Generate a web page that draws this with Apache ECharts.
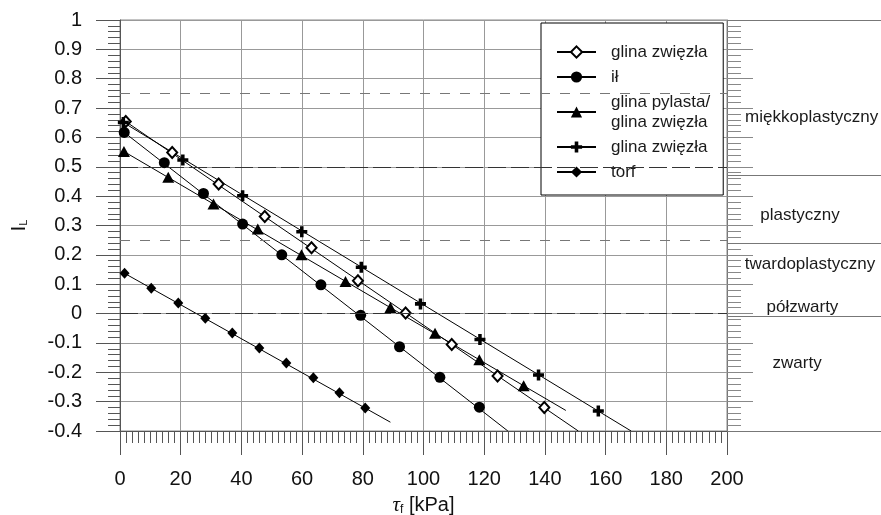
<!DOCTYPE html>
<html>
<head>
<meta charset="utf-8">
<script src="https://cdn.jsdelivr.net/npm/echarts@6/dist/echarts.min.js"></script>
<style>
html, body { margin: 0; padding: 0; background: #fff; }
#chart { width: 881px; height: 515px; }
</style>
</head>
<body>
<div id="chart"></div>
<script>
// axis ticks
var xTicks = [0, 20, 40, 60, 80, 100, 120, 140, 160, 180, 200];
var yTicks = [-0.4, -0.3, -0.2, -0.1, 0, 0.1, 0.2, 0.3, 0.4, 0.5, 0.6, 0.7, 0.8, 0.9, 1];

// legend texts
var seriesKeys = ['gz1', 'il', 'gp', 'gz2', 'torf'];
var seriesLabels = ['glina zwięzła', 'ił', 'glina pylasta/\nglina zwięzła', 'glina zwięzła', 'torf'];

// glina zwięzła (open diamond)
var gz1X = [1.9, 17.2, 32.5, 47.7, 63.1, 78.4, 94.1, 109.3, 124.4, 139.8];
var gz1Y = [0.654, 0.549, 0.441, 0.331, 0.224, 0.112, 0.002, -0.105, -0.213, -0.32];
var gz1Fit = [[1.9, 0.654], [151, -0.4]];

// ił
var ilX = [1.4, 14.6, 27.5, 40.4, 53.3, 66.2, 79.3, 92.1, 105.4, 118.4];
var ilY = [0.617, 0.514, 0.409, 0.305, 0.2, 0.098, -0.006, -0.113, -0.217, -0.319];
var ilFit = [[1.4, 0.617], [127.8, -0.4]];

// glina pylasta / glina zwięzła
var gpX = [1.3, 15.9, 30.8, 45.4, 59.8, 74.3, 89.1, 103.8, 118.4, 133];
var gpY = [0.552, 0.464, 0.373, 0.288, 0.2, 0.109, 0.021, -0.067, -0.157, -0.246];
var gpFit = [[1.3, 0.552], [146.9, -0.33]];

// glina zwięzła (cross)
var gz2X = [1.1, 20.7, 40.4, 59.9, 79.5, 99, 118.6, 137.9, 157.6];
var gz2Y = [0.651, 0.523, 0.401, 0.279, 0.158, 0.033, -0.088, -0.209, -0.332];
var gz2Fit = [[1.1, 0.651], [168.4, -0.4]];

// torf
var torfX = [1.5, 10.3, 19.2, 28.1, 37, 45.9, 54.8, 63.7, 72.3, 80.8];
var torfY = [0.137, 0.086, 0.036, -0.016, -0.066, -0.117, -0.168, -0.219, -0.27, -0.322];
var torfFit = [[1.5, 0.137], [89.1, -0.37]];

// consistency zones on the right
var zoneNames = ['miękkoplastyczny', 'plastyczny', 'twardoplastyczny', 'półzwarty', 'zwarty'];
var zoneBounds = [1, 0.473, 0.238, -0.01, -0.4];
var refLines = [0.75, 0.5, 0.25, 0];

// where the zone names sit inside the right panel (x 0..1, y in I_L units)
var zoneLabelAt = [[0.55, 0.667], [0.474, 0.335], [0.539, 0.167], [0.49, 0.022], [0.455, -0.17]];

var FONT = 'Liberation Sans, Arial, sans-serif';
var plus = 'path://M3.4,0h3.2v3.4h3.4v3.2h-3.4v3.4h-3.2v-3.4h-3.4v-3.2h3.4z';

function pts(xs, ys) {
    return xs.map(function (x, i) { return [x, ys[i]]; });
}

var marks = [
    { key: 'gz1', x: gz1X, y: gz1Y, fit: gz1Fit, symbol: 'diamond', size: [10, 11],
      style: { color: '#fff', borderColor: '#000', borderWidth: 2, opacity: 1 } },
    { key: 'il', x: ilX, y: ilY, fit: ilFit, symbol: 'circle', size: 11, style: { color: '#000', opacity: 1 } },
    { key: 'gp', x: gpX, y: gpY, fit: gpFit, symbol: 'triangle', size: [12, 11], style: { color: '#000', opacity: 1 } },
    { key: 'gz2', x: gz2X, y: gz2Y, fit: gz2Fit, symbol: plus, size: 11, style: { color: '#000', opacity: 1 } },
    { key: 'torf', x: torfX, y: torfY, fit: torfFit, symbol: 'diamond', size: [10, 11], style: { color: '#000', opacity: 1 } }
];

var series = [];
// fitted lines first, so the legend takes its icon (line + symbol) from them
marks.forEach(function (m) {
    series.push({
        name: m.key, type: 'line', data: m.fit, showSymbol: false,
        symbol: m.symbol, symbolSize: m.size, itemStyle: m.style,
        lineStyle: { color: '#000', width: 1 }, z: 3, silent: true
    });
});
marks.forEach(function (m) {
    series.push({
        name: m.key, type: 'scatter', data: pts(m.x, m.y),
        symbol: m.symbol, symbolSize: m.size, itemStyle: m.style, z: 4, silent: true
    });
});

// dashed limits in the plot
series.push({
    name: 'ref', type: 'line', data: [], z: 2, silent: true,
    markLine: {
        silent: true, symbol: ['none', 'none'], label: { show: false },
        data: refLines.map(function (v) {
            var dark = (v === 0.5 || v === 0);
            return { yAxis: v, lineStyle: { type: dark ? [18, 5] : [10, 10], color: dark ? '#333' : '#777', width: 1 } };
        })
    }
});

// right panel: zone borders and names
series.push({
    name: 'zones', type: 'scatter', xAxisIndex: 1, yAxisIndex: 1, silent: true,
    symbolSize: 0, itemStyle: { opacity: 1 },
    data: zoneNames.map(function (n, i) { return { value: zoneLabelAt[i], name: n }; }),
    label: { show: true, position: 'inside', formatter: '{b}', fontSize: 17, color: '#1a1a1a', fontFamily: FONT },
    markLine: {
        silent: true, symbol: ['none', 'none'], label: { show: false },
        lineStyle: { type: 'solid', color: '#777', width: 1 },
        data: zoneBounds.map(function (v) { return { yAxis: v }; })
    }
});

var tickColor = '#555';

var option = {
    animation: false,
    backgroundColor: '#fff',
    grid: [
        { left: 120, right: 154, top: 20, bottom: 84, show: true, borderColor: '#888', borderWidth: 1,
          containLabel: false, outerBoundsMode: 'none' },
        { left: 727, right: 0, top: 20, bottom: 84, containLabel: false, outerBoundsMode: 'none' }
    ],
    legend: {
        orient: 'vertical', left: 541, top: 23,
        data: seriesKeys,
        formatter: function (name) { return seriesLabels[seriesKeys.indexOf(name)]; },
        itemWidth: 39, itemHeight: 14, itemGap: 5,
        padding: [19, 13, 13, 15],
        borderColor: '#000', borderWidth: 1, backgroundColor: '#fff',
        selectedMode: false,
        textStyle: { fontSize: 17, lineHeight: 20, color: '#1a1a1a', fontFamily: FONT, padding: [0, 0, 0, 10] }
    },
    xAxis: [
        {
            type: 'value', gridIndex: 0,
            min: xTicks[0], max: xTicks[xTicks.length - 1], interval: 20,
            name: '{t|τ}{s|f} [kPa]', nameLocation: 'middle', nameGap: 63,
            nameTextStyle: {
                fontSize: 20, color: '#111', fontFamily: FONT,
                rich: {
                    t: { fontSize: 21, fontStyle: 'italic', fontFamily: 'Liberation Serif, serif', color: '#111' },
                    s: { fontSize: 12, verticalAlign: 'bottom', padding: [10, 0, 0, 0], color: '#111', fontFamily: FONT }
                }
            },
            axisLine: { onZero: false, lineStyle: { color: tickColor } },
            axisTick: { length: 24, lineStyle: { color: tickColor } },
            minorTick: { show: true, splitNumber: 10, length: 12, lineStyle: { color: tickColor } },
            axisLabel: { fontSize: 20, color: '#111', fontFamily: FONT, margin: 38 },
            splitLine: { lineStyle: { color: '#999' } }
        },
        { type: 'value', gridIndex: 1, min: 0, max: 1, show: false }
    ],
    yAxis: [
        {
            type: 'value', gridIndex: 0,
            min: yTicks[0], max: yTicks[yTicks.length - 1], interval: 0.1,
            name: '{i|I}{s|L}', nameLocation: 'middle', nameGap: 90, nameRotate: 90,
            nameTextStyle: {
                fontSize: 20, color: '#111', fontFamily: FONT,
                rich: {
                    i: { fontSize: 21, color: '#111', fontFamily: FONT },
                    s: { fontSize: 11, color: '#111', fontFamily: FONT, padding: [8, 0, 0, 0] }
                }
            },
            axisLine: { onZero: false, lineStyle: { color: tickColor } },
            axisTick: { length: 24, lineStyle: { color: tickColor } },
            minorTick: { show: true, splitNumber: 5, length: 12, lineStyle: { color: tickColor } },
            axisLabel: {
                fontSize: 20, color: '#111', fontFamily: FONT, margin: 38,
                formatter: function (v) { return String(+v.toFixed(1)); }
            },
            splitLine: { lineStyle: { color: '#999' } }
        },
        {
            type: 'value', gridIndex: 1,
            min: yTicks[0], max: yTicks[yTicks.length - 1], interval: 0.1,
            axisLine: { show: true, onZero: false, lineStyle: { color: '#777' } },
            axisTick: { inside: true, length: 26, lineStyle: { color: '#888' } },
            minorTick: { show: true, splitNumber: 5, length: 14, lineStyle: { color: '#888' } },
            axisLabel: { show: false },
            splitLine: { show: false }
        }
    ],
    series: series
};

var chart = echarts.init(document.getElementById('chart'));
chart.setOption(option);
</script>
</body>
</html>
